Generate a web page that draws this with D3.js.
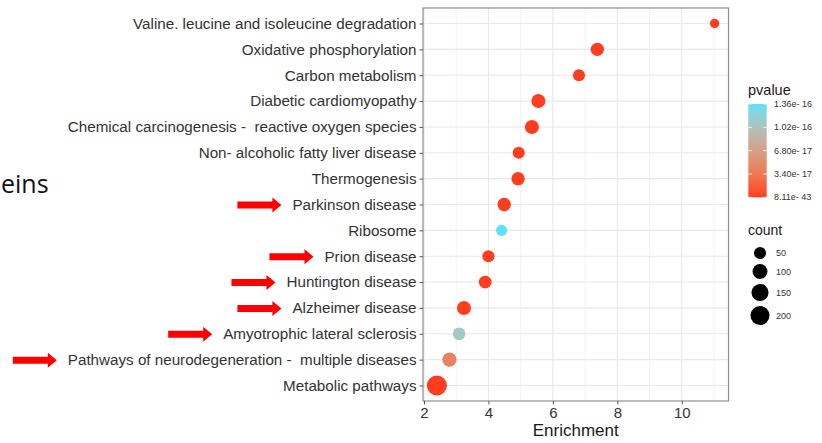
<!DOCTYPE html>
<html>
<head>
<meta charset="utf-8">
<script src="https://cdn.jsdelivr.net/npm/d3@7"></script>
<style>
    body { margin: 0; background: #ffffff; }
    svg { display: block; }
    text { font-family: "Liberation Sans", Arial, Helvetica, sans-serif; }
</style>
</head>
<body>
<svg id="chart" width="822" height="443"></svg>
<script>
// pathways, top row first
const pathways = [
    'Valine. leucine and isoleucine degradation',
    'Oxidative phosphorylation',
    'Carbon metabolism',
    'Diabetic cardiomyopathy',
    'Chemical carcinogenesis -  reactive oxygen species',
    'Non- alcoholic fatty liver disease',
    'Thermogenesis',
    'Parkinson disease',
    'Ribosome',
    'Prion disease',
    'Huntington disease',
    'Alzheimer disease',
    'Amyotrophic lateral sclerosis',
    'Pathways of neurodegeneration -  multiple diseases',
    'Metabolic pathways'
];
const enrichment = [11.02, 7.38, 6.81, 5.55, 5.35, 4.94, 4.92, 4.49, 4.41, 4.00, 3.90, 3.24, 3.09, 2.79, 2.40];
const geneCount = [20, 72, 52, 84, 84, 52, 72, 72, 40, 52, 62, 84, 62, 86, 232];
const pValues = [2.1e-20, 8.11e-43, 3.5e-25, 1.2e-35, 4.6e-33, 2.3e-27, 6.5e-30, 1.8e-32,
    1.36e-16, 5.2e-26, 7.4e-28, 3.3e-30, 1.08e-16, 4.3e-17, 2.4e-38];

const xTicks = [2, 4, 6, 8, 10];
const xMinorTicks = [3, 5, 7, 9, 11];
const pvalueBreaks = [1.36e-16, 1.02e-16, 6.80e-17, 3.40e-17, 8.11e-43];
const pvalueLabels = ['1.36e- 16', '1.02e- 16', '6.80e- 17', '3.40e- 17', '8.11e- 43'];
const countBreaks = [50, 100, 150, 200];
const markedPathways = [
    'Parkinson disease',
    'Prion disease',
    'Huntington disease',
    'Alzheimer disease',
    'Amyotrophic lateral sclerosis',
    'Pathways of neurodegeneration -  multiple diseases'
];

class DotPlot {
    constructor(svg){
        this.svg = svg;
        this.left = 423;
        this.right = 728.5;
        this.top = 8;
        this.bottom = 401;
        this.rows = pathways.map(function(name, i){
            return {name: name, x: enrichment[i], count: geneCount[i], p: pValues[i]};
        });

        var ext = d3.extent(enrichment);
        var pad = (ext[1] - ext[0]) * 0.05;
        this.x = d3.scaleLinear().domain([ext[0] - pad, ext[1] + pad]).range([this.left, this.right]);
        this.y = d3.scalePoint().domain(pathways).range([this.top, this.bottom]).padding(0.6);
        this.size = d3.scaleSqrt().domain(d3.extent(geneCount)).range([4.7, 10.05]);
        this.color = d3.scaleLinear()
            .domain(d3.extent(pValues))
            .range(['#ff3d1f', '#5ce2f4'])
            .interpolate(d3.interpolateLab);
    }

    // grid + border of the panel
    DrawPanel(){
        var self = this;
        var g = this.svg.append('g');
        g.selectAll('line.minor')
            .data(xMinorTicks.filter(function(t){ return self.x(t) < self.right; }))
            .join('line')
            .attr('x1', function(d){ return self.x(d); })
            .attr('x2', function(d){ return self.x(d); })
            .attr('y1', this.top).attr('y2', this.bottom)
            .style('stroke', '#efefef').style('stroke-width', 0.8);
        g.selectAll('line.vmajor')
            .data(xTicks)
            .join('line')
            .attr('x1', function(d){ return self.x(d); })
            .attr('x2', function(d){ return self.x(d); })
            .attr('y1', this.top).attr('y2', this.bottom)
            .style('stroke', '#e8e8e8').style('stroke-width', 1.1);
        g.selectAll('line.hmajor')
            .data(pathways)
            .join('line')
            .attr('x1', this.left).attr('x2', this.right)
            .attr('y1', function(d){ return self.y(d); })
            .attr('y2', function(d){ return self.y(d); })
            .style('stroke', '#e8e8e8').style('stroke-width', 1.1);
        this.svg.append('rect')
            .attr('x', this.left).attr('y', this.top)
            .attr('width', this.right - this.left)
            .attr('height', this.bottom - this.top)
            .style('fill', 'none')
            .style('stroke', '#8f8f8f')
            .style('stroke-width', 1.2);
    }

    DrawPoints(){
        var self = this;
        this.svg.append('g')
            .selectAll('circle')
            .data(this.rows)
            .join('circle')
            .attr('cx', function(d){ return self.x(d.x); })
            .attr('cy', function(d){ return self.y(d.name); })
            .attr('r', function(d){ return self.size(d.count); })
            .style('fill', function(d){ return self.color(d.p); });
    }

    DrawAxes(){
        var xAxis = this.svg.append('g')
            .attr('transform', 'translate(0,' + this.bottom + ')')
            .call(d3.axisBottom(this.x).tickValues(xTicks).tickFormat(d3.format('d')).tickSize(3.5).tickPadding(2));
        var yAxis = this.svg.append('g')
            .attr('transform', 'translate(' + this.left + ',0)')
            .call(d3.axisLeft(this.y).tickSize(3.5).tickPadding(3));
        [xAxis, yAxis].forEach(function(a){
            a.select('.domain').remove();
            a.selectAll('.tick line').style('stroke', '#555').style('stroke-width', 1);
            a.selectAll('.tick text')
                .style('fill', '#333')
                .style('font-size', '15.2px')
                .style('white-space', 'pre');
        });
        xAxis.selectAll('.tick text').attr('dy', '0.75em').style('font-size', '15px');

        this.svg.append('text')
            .attr('x', (this.left + this.right) / 2)
            .attr('y', 436)
            .attr('text-anchor', 'middle')
            .style('font-size', '17px')
            .style('fill', '#1a1a1a')
            .text('Enrichment');
        this.yAxis = yAxis;
    }

    // red arrows next to the neuro pathways
    DrawArrows(){
        var self = this;
        var line = d3.line();
        this.yAxis.selectAll('.tick')
            .filter(function(d){ return markedPathways.indexOf(d) >= 0; })
            .each(function(d){
                var label = d3.select(this).select('text').node();
                var box = label.getBBox();
                var tip = self.left + box.x - 11;
                var cy = self.y(d) + 0.5;
                var pts = [[tip - 44, cy - 3.5], [tip - 9, cy - 3.5], [tip - 9, cy - 7.5], [tip, cy],
                           [tip - 9, cy + 7.5], [tip - 9, cy + 3.5], [tip - 44, cy + 3.5]];
                self.svg.append('path')
                    .attr('d', line(pts) + 'Z')
                    .style('fill', '#ff0000');
            });
    }

    DrawLegend(){
        var self = this;
        var lg = this.svg.append('g');
        var barX = 748.3, barW = 18.4, barTop = 104, barBottom = 197.3;

        lg.append('text').attr('x', 748).attr('y', 95)
            .style('font-size', '14.5px').style('fill', '#1a1a1a').text('pvalue');

        var grad = this.svg.append('defs').append('linearGradient')
            .attr('id', 'pgrad').attr('x1', 0).attr('y1', 1).attr('x2', 0).attr('y2', 0);
        d3.range(0, 1.0001, 0.1).forEach(function(t){
            var ext = self.color.domain();
            grad.append('stop')
                .attr('offset', t)
                .attr('stop-color', self.color(ext[0] + t * (ext[1] - ext[0])));
        });
        lg.append('rect')
            .attr('x', barX).attr('y', barTop)
            .attr('width', barW).attr('height', barBottom - barTop)
            .style('fill', 'url(#pgrad)');

        var py = d3.scaleLinear().domain(d3.extent(pValues)).range([barBottom, barTop]);
        pvalueBreaks.forEach(function(b, i){
            var yy = py(b);
            [barX, barX + barW - 3.7].forEach(function(x0){
                lg.append('line')
                    .attr('x1', x0).attr('x2', x0 + 3.7)
                    .attr('y1', yy).attr('y2', yy)
                    .style('stroke', '#ffffff').style('stroke-width', 1)
                    .style('opacity', 0.8);
            });
            lg.append('text')
                .attr('x', 774).attr('y', yy).attr('dy', '0.35em')
                .style('font-size', '9px').style('fill', '#333')
                .style('white-space', 'pre')
                .text(pvalueLabels[i]);
        });

        lg.append('text').attr('x', 748).attr('y', 235)
            .style('font-size', '14px').style('fill', '#1a1a1a').text('count');

        var cy = 253, prevR = null;
        countBreaks.forEach(function(c){
            var r = self.size(c);
            if(prevR !== null){
                cy += prevR + r + 5;
            }
            lg.append('circle').attr('cx', 760).attr('cy', cy).attr('r', r).style('fill', '#000');
            lg.append('text')
                .attr('x', 776).attr('y', cy).attr('dy', '0.35em')
                .style('font-size', '9px').style('fill', '#333')
                .text(c);
            prevR = r;
        });
    }

    // cut-off slide text at the left edge
    DrawSlideText(){
        this.svg.append('text')
            .attr('x', 1).attr('y', 193)
            .style('font-family', '"Open Sans", "Noto Sans", sans-serif')
            .style('font-size', '25px')
            .style('fill', '#111')
            .text('eins');
    }
}

var chart = new DotPlot(d3.select('#chart'));
chart.DrawPanel();
chart.DrawPoints();
chart.DrawAxes();
chart.DrawArrows();
chart.DrawLegend();
chart.DrawSlideText();
</script>
</body>
</html>
